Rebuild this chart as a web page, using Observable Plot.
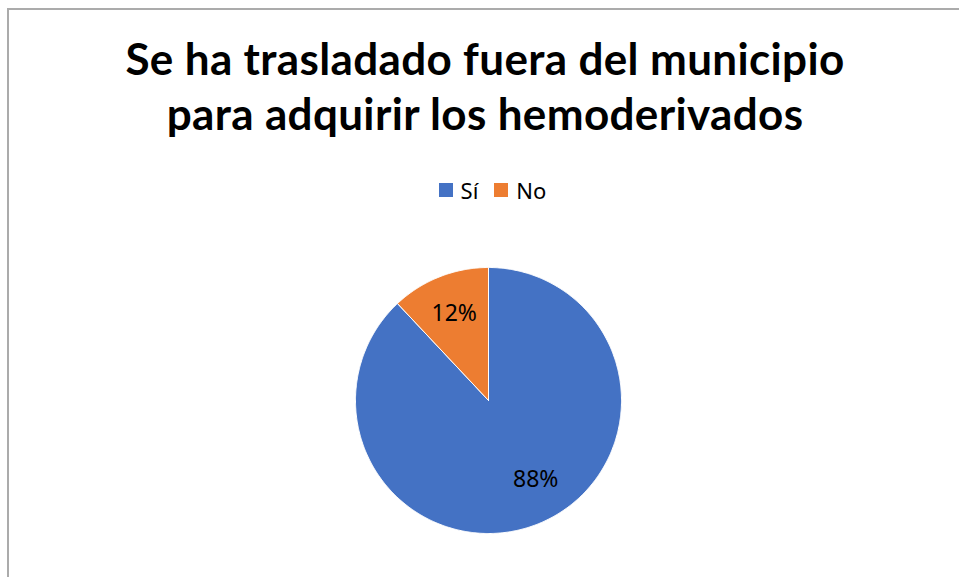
<!DOCTYPE html>
<html>
<head>
<meta charset="utf-8">
<script src="https://cdn.jsdelivr.net/npm/d3@7"></script>
<script src="https://cdn.jsdelivr.net/npm/@observablehq/plot@0.6"></script>
<style>
  html, body { margin: 0; padding: 0; background: #fff; }
  #frame { position: relative; width: 959px; height: 577px; overflow: hidden; background: #fff; }
  #border { position: absolute; left: 7px; top: 8px; width: 960px; height: 580px;
            border-left: 2px solid #ababab; border-top: 2px solid #ababab; box-sizing: border-box; }
  #title { position: absolute; left: 0; width: 970px; top: 30.5px; text-align: center;
           font-family: Lato, "Open Sans", sans-serif; font-weight: bold; font-size: 44px;
           letter-spacing: 0.35px; line-height: 55px; color: #000; }
  #legend { position: absolute; left: 0; width: 985px; top: 173px; text-align: center;
            font-family: "Noto Sans", "Open Sans", sans-serif; font-size: 22px; color: #000; }
  #legend span.item { display: inline-flex; align-items: center; margin: 0 8px; }
  #legend span.sw { display: inline-block; width: 14px; height: 14px; margin-right: 8px; }
  #chart { position: absolute; left: 338px; top: 250px; }
</style>
</head>
<body>
<div id="frame">
  <div id="border"></div>
  <div id="title">Se ha trasladado fuera del municipio<br>para adquirir los hemoderivados</div>
  <div id="legend"></div>
  <div id="chart"></div>
</div>
<script>
const categories = ["Sí", "No"];
const percents = [88, 12];
const colors = ["#4472C4", "#ED7D31"];
const labelTexts = ["88%", "12%"];

// legend
const legend = document.getElementById("legend");
categories.forEach((c, i) => {
  const it = document.createElement("span");
  it.className = "item";
  const sw = document.createElement("span");
  sw.className = "sw";
  sw.style.background = colors[i];
  it.appendChild(sw);
  it.appendChild(document.createTextNode(c));
  legend.appendChild(it);
});

// pie geometry in unit coordinates (angle 0 at 12 o'clock, clockwise)
const arcs = d3.pie().sort(null).value(d => d.value)(
  categories.map((c, i) => ({category: c, value: percents[i], label: labelTexts[i]}))
);
const pts = [];
for (const a of arcs) {
  const cat = a.data.category;
  pts.push({category: cat, x: 0, y: 0});
  const steps = Math.max(2, Math.ceil((a.endAngle - a.startAngle) / (Math.PI / 360)));
  for (let k = 0; k <= steps; k++) {
    const t = a.startAngle + (a.endAngle - a.startAngle) * k / steps;
    pts.push({category: cat, x: Math.sin(t), y: Math.cos(t)});
  }
  pts.push({category: cat, x: 0, y: 0});
}
const labels = arcs.map(a => {
  const m = (a.startAngle + a.endAngle) / 2;
  return {category: a.data.category, label: a.data.label, x: 0.7 * Math.sin(m), y: 0.7 * Math.cos(m)};
});

const half = 150 / 133;
const plot = Plot.plot({
  width: 300,
  height: 300,
  margin: 0,
  x: {domain: [-half, half], axis: null},
  y: {domain: [-half, half], axis: null},
  color: {domain: categories, range: colors},
  marks: [
    Plot.line(pts, {x: "x", y: "y", z: "category", fill: "category", stroke: "white", strokeWidth: 1, curve: "linear"}),
    Plot.text(labels.filter(d => d.category === "Sí"), {x: "x", y: "y", text: "label", dx: 13, dy: -7,
      fontSize: 23, fontFamily: "Noto Sans", fill: "#000"}),
    Plot.text(labels.filter(d => d.category === "No"), {x: "x", y: "y", text: "label",
      fontSize: 23, fontFamily: "Noto Sans", fill: "#000"})
  ]
});
document.getElementById("chart").appendChild(plot);
</script>
</body>
</html>
